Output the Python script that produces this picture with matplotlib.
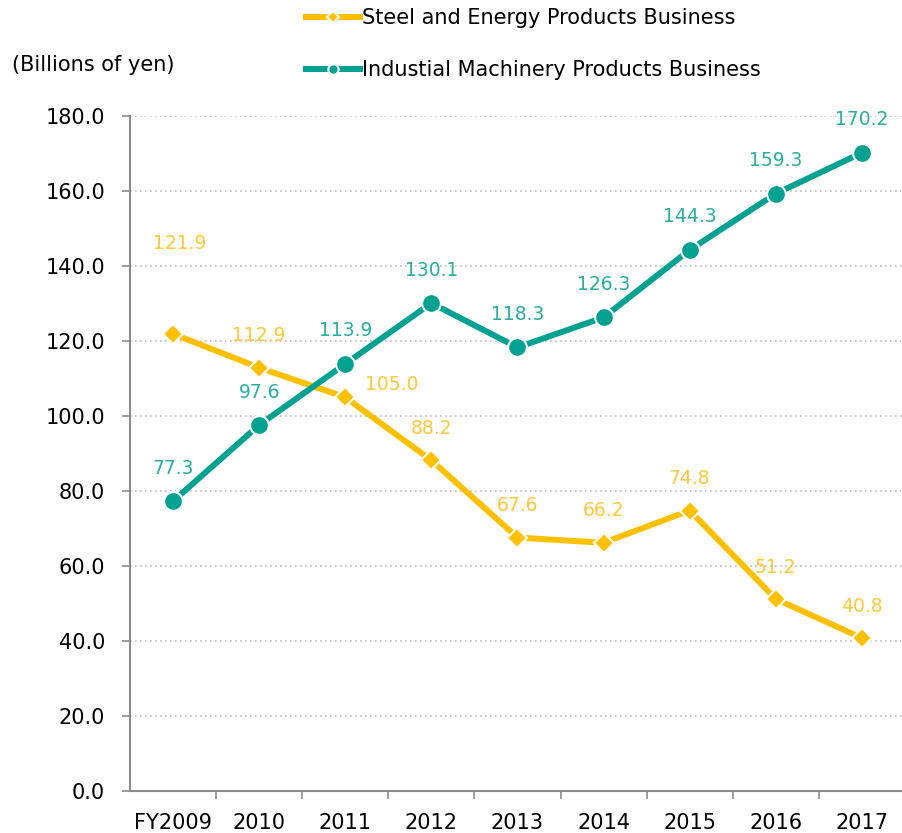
import matplotlib
matplotlib.use('Agg')
import matplotlib.pyplot as plt
import numpy as np

# Values
years = ['FY2009', '2010', '2011', '2012', '2013', '2014', '2015', '2016', '2017']
steel = [121.9, 112.9, 105.0, 88.2, 67.6, 66.2, 74.8, 51.2, 40.8]
machinery = [77.3, 97.6, 113.9, 130.1, 118.3, 126.3, 144.3, 159.3, 170.2]
steel_label = 'Steel and Energy Products Business'
machinery_label = 'Industial Machinery Products Business'

yellow = '#FFC000'
teal = '#00A191'
grey = '#8c8c8c'

plt.rcParams['font.family'] = ['DejaVu Sans']

fig = plt.figure(figsize=(9.02, 8.33), dpi=100)
ax = fig.add_axes([0.1441, 0.0504, 0.8592, 0.8103])

x = np.arange(len(years))

ax.plot(x, steel, color=yellow, lw=4.3, marker='D', markersize=10.5,
        markeredgecolor='white', markeredgewidth=1.5, label=steel_label, zorder=3)
ax.plot(x, machinery, color=teal, lw=4.3, marker='o', markersize=13.5,
        markeredgecolor='white', markeredgewidth=1.5, label=machinery_label, zorder=4)

# data labels (offsets in pixels), thin look -> slightly lighter colour
for i, v in enumerate(steel):
    dx, dy = 0, 32
    if i == 0:
        dx, dy = 7, 90
    elif i == 2:
        dx, dy = 46, 13
    ax.annotate(f'{v:.1f}', (x[i], v), xytext=(dx, dy), textcoords='offset pixels',
                ha='center', va='center', color='#FFC93A', fontsize=13.5, zorder=5)
for i, v in enumerate(machinery):
    ax.annotate(f'{v:.1f}', (x[i], v), xytext=(0, 33), textcoords='offset pixels',
                ha='center', va='center', color='#2AAE9F', fontsize=13.5, zorder=5)

ax.set_xlim(-0.5, len(years) - 0.5)
ax.set_ylim(0, 180)
ax.set_yticks(np.arange(0, 181, 20))
ax.set_yticklabels([f'{t:.1f}' for t in np.arange(0, 181, 20)])
ax.set_xticks(x)
ax.set_xticklabels(years)
ax.set_xticks(np.arange(0.5, len(years) - 0.5, 1), minor=True)
ax.tick_params(axis='x', which='major', length=0, pad=16, labelsize=15)
ax.tick_params(axis='x', which='minor', length=6, width=1.2, color=grey)
ax.tick_params(axis='y', length=6, width=1.2, color=grey, pad=12, labelsize=15)

ax.grid(axis='y', color='#bfbfbf', linestyle=(0, (1, 2)), linewidth=1.2)
ax.set_axisbelow(True)
for s in ['top', 'right']:
    ax.spines[s].set_visible(False)
for s in ['left', 'bottom']:
    ax.spines[s].set_color(grey)
    ax.spines[s].set_linewidth(1.5)

fig.text(0.013, 0.922, '(Billions of yen)', fontsize=15, va='center', ha='left')

fig.legend(loc='upper left', bbox_to_anchor=(0.318, 1.013), frameon=False,
           fontsize=15, handlelength=2.6, handletextpad=0.1,
           labelspacing=1.55, markerscale=0.55)

fig.savefig('out.png', dpi=100)
